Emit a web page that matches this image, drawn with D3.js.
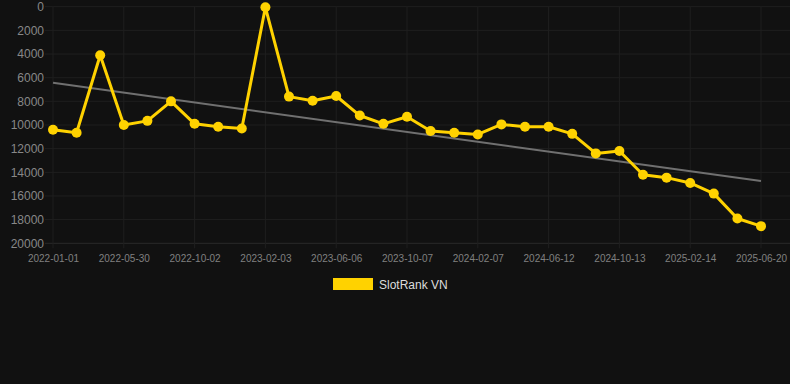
<!DOCTYPE html>
<html>
<head>
<meta charset="utf-8">
<script src="https://cdn.jsdelivr.net/npm/d3@7"></script>
<style>
  html, body { margin: 0; padding: 0; background: #111111; }
  svg { display: block; }
</style>
</head>
<body>
<svg id="chart" width="790" height="384"></svg>
<script>
const categories = [
  "2022-01-01","2022-02-19","2022-04-10","2022-05-30","2022-07-11","2022-08-22",
  "2022-10-02","2022-11-12","2022-12-24","2023-02-03","2023-03-16","2023-04-26",
  "2023-06-06","2023-07-17","2023-08-27","2023-10-07","2023-11-17","2023-12-28",
  "2024-02-07","2024-03-19","2024-05-01","2024-06-12","2024-07-23","2024-09-02",
  "2024-10-13","2024-11-23","2025-01-03","2025-02-14","2025-03-27","2025-05-09",
  "2025-06-20"
];
const rankValues = [
  10400, 10650, 4100, 10000, 9650, 8000,
  9900, 10150, 10300, 50, 7600, 7950,
  7550, 9200, 9900, 9300, 10500, 10650,
  10800, 9950, 10150, 10150, 10750, 12400,
  12200, 14200, 14450, 14900, 15800, 17900,
  18550
];
const yTickValues = [0, 2000, 4000, 6000, 8000, 10000, 12000, 14000, 16000, 18000, 20000];
const xTickLabels = categories.filter((d, i) => i % 3 === 0);
const seriesName = "SlotRank VN";

(function () {
const W = 790, H = 384;
const pLeft = 53, pRight = 761, pTop = 6.7, pBottom = 243.3;
const svg = d3.select("#chart");
svg.append("rect").attr("width", W).attr("height", H).attr("fill", "#111111");

const x = d3.scalePoint().domain(categories).range([pLeft, pRight]);
const y = d3.scaleLinear().domain([0, 20000]).range([pTop, pBottom]);

// horizontal grid
svg.append("g")
  .selectAll("line").data(yTickValues).join("line")
  .attr("x1", 45).attr("x2", W)
  .attr("y1", d => y(d)).attr("y2", d => y(d))
  .attr("stroke", d => d === 20000 ? "#2a2a2a" : "#1f1f1f")
  .attr("stroke-width", 1);

// vertical grid
svg.append("g")
  .selectAll("line").data(xTickLabels).join("line")
  .attr("x1", d => x(d)).attr("x2", d => x(d))
  .attr("y1", pTop).attr("y2", pBottom + 5)
  .attr("stroke", "#1f1f1f")
  .attr("stroke-width", 1);

// y axis labels
const yAxis = d3.axisLeft(y).tickValues(yTickValues).tickSize(0).tickPadding(0).tickFormat(d3.format("d"));
const yg = svg.append("g").attr("transform", `translate(44,0)`).call(yAxis);
yg.select(".domain").remove();
yg.selectAll("text")
  .attr("fill", "#888888")
  .attr("font-family", "Liberation Sans, Arial, sans-serif")
  .attr("font-size", "12px");

// x axis labels
const xAxis = d3.axisBottom(x).tickValues(xTickLabels).tickSize(0).tickPadding(0);
const xg = svg.append("g").attr("transform", `translate(0,${pBottom + 12})`).call(xAxis);
xg.select(".domain").remove();
xg.selectAll("text")
  .attr("fill", "#808080")
  .attr("font-family", "Liberation Sans, Arial, sans-serif")
  .attr("font-size", "10px");

// trend line (least squares)
const n = rankValues.length;
const idx = d3.range(n);
const mx = d3.mean(idx), my = d3.mean(rankValues);
const slope = d3.sum(idx, i => (i - mx) * (rankValues[i] - my)) / d3.sum(idx, i => (i - mx) * (i - mx));
const intercept = my - slope * mx;
svg.append("line")
  .attr("x1", x(categories[0])).attr("y1", y(intercept))
  .attr("x2", x(categories[n - 1])).attr("y2", y(intercept + slope * (n - 1)))
  .attr("stroke", "#707070").attr("stroke-width", 2);

// main line
const line = d3.line().x((d, i) => x(categories[i])).y(d => y(d));
svg.append("path")
  .datum(rankValues)
  .attr("d", line)
  .attr("fill", "none")
  .attr("stroke", "#ffd200")
  .attr("stroke-width", 3)
  .attr("stroke-linejoin", "round");

svg.append("g")
  .selectAll("circle").data(rankValues).join("circle")
  .attr("cx", (d, i) => x(categories[i]))
  .attr("cy", d => y(d))
  .attr("r", 5)
  .attr("fill", "#ffd200");

// legend
const lg = svg.append("g");
lg.append("rect").attr("x", 333).attr("y", 278).attr("width", 40).attr("height", 12).attr("fill", "#ffd200");
lg.append("text").attr("x", 379).attr("y", 288.5)
  .attr("fill", "#dddddd")
  .attr("font-family", "Liberation Sans, Arial, sans-serif")
  .attr("font-size", "12px")
  .text(seriesName);
})();
</script>
</body>
</html>
